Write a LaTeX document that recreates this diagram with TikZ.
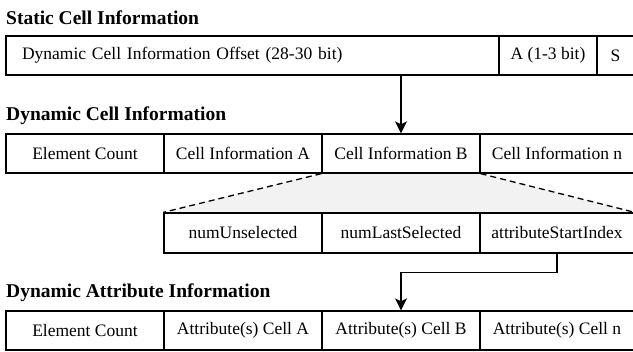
\documentclass[tikz,border=0pt]{standalone}
\usepackage{fontspec}
\setmainfont{Liberation Serif}
\usetikzlibrary{arrows.meta,backgrounds}
\begin{document}
\begin{tikzpicture}[x=1pt,y=-1pt,
  cell/.style={draw=black, line width=1.3pt, rectangle, inner sep=0pt, minimum height=39pt,
    font=\fontsize{17.5}{20}\selectfont},
  ttl/.style={anchor=west, inner sep=0pt, font=\fontsize{19.5}{22}\selectfont\bfseries},
  arr/.style={line width=1.3pt, -{Stealth[length=12pt,width=12pt,inset=3pt]}},
  dsh/.style={line width=1.3pt, dash pattern=on 6pt off 4pt}]
\useasboundingbox (0,0) rectangle (633,352);
% titles
\node[ttl] (t1) at (6,18) {Static Cell Information};
\node[ttl] (t2) at (6,116) {Dynamic Cell Information};
\node[ttl] (t3) at (6,293) {Dynamic Attribute Information};
% row 1
\node[cell, minimum width=493pt, text width=461pt, inner xsep=16pt, align=left] (r1a) at (252.5,55.5) {Dynamic Cell Information Offset (28-30 bit)};
\node[cell, minimum width=98pt] (r1b) at (548,55.5) {A (1-3 bit)};
\node[cell, minimum width=37pt] (r1c) at (615.5,55.5) {S};
% row 2
\node[cell, minimum width=158pt] (r2a) at (85,153.5) {Element Count};
\node[cell, minimum width=158pt] (r2b) at (243,153.5) {Cell Information A};
\node[cell, minimum width=158pt] (r2c) at (401,153.5) {Cell Information B};
\node[cell, minimum width=154pt] (r2d) at (557,153.5) {Cell Information n};
% row 3
\node[cell, minimum width=158pt, minimum height=40pt] (r3a) at (243,233) {numUnselected};
\node[cell, minimum width=158pt, minimum height=40pt] (r3b) at (401,233) {numLastSelected};
\node[cell, minimum width=154pt, minimum height=40pt] (r3c) at (557,233) {attributeStartIndex};
% row 4
\node[cell, minimum width=158pt] (r4a) at (85,330.5) {Element Count};
\node[cell, minimum width=158pt] (r4b) at (243,330.5) {Attribute(s) Cell A};
\node[cell, minimum width=158pt] (r4c) at (401,330.5) {Attribute(s) Cell B};
\node[cell, minimum width=154pt] (r4d) at (557,330.5) {Attribute(s) Cell n};
% expansion
\begin{scope}[on background layer]
\fill[black!5] (r2c.south west) -- (r2c.south east) -- (r3c.north east) -- (r3a.north west) -- cycle;
\end{scope}
\draw[dsh] (r2c.south west) -- (r3a.north west);
\draw[dsh] (r2c.south east) -- (r3c.north east);
% connectors
\draw[arr] (r2c.north |- r1a.south) -- (r2c.north);
\draw[arr] (r3c.south) -- ++(0,19) -| (r4c.north);
\end{tikzpicture}
\end{document}
